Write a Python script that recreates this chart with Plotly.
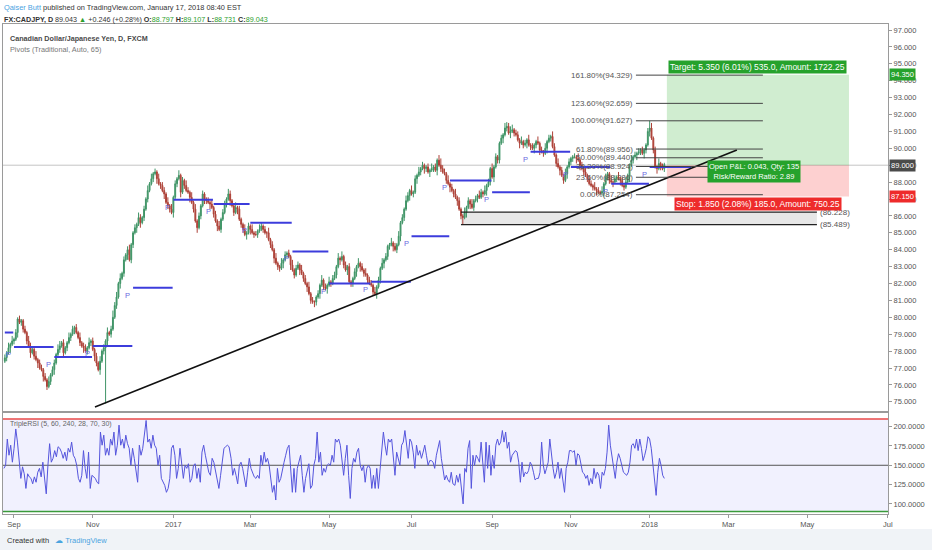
import numpy as np
import pandas as pd
import plotly.graph_objects as go

# ---------------- data ----------------
FIRST_OPEN = 77.4
CLOSES = [
    77.6, 77.9, 78.2, 78.4, 78.6, 78.7, 79.1, 79.9, 79.7, 79.8,
    79.3, 79.1, 78.6, 78.3, 77.9, 78.1, 77.7, 77.5, 77.3, 77.0,
    76.9, 76.5, 76.3, 75.9, 76.2, 76.6, 76.9, 77.3, 77.8, 78.1,
    78.3, 78.5, 77.9, 78.2, 78.5, 78.8, 79.0, 79.3, 79.4, 79.1,
    78.8, 78.5, 78.3, 78.2, 78.0, 78.2, 78.5, 78.6, 78.1, 77.7,
    77.3, 76.9, 77.4, 78.0, 78.2, 78.6, 79.1, 79.0, 79.3, 80.0,
    80.7, 81.2, 82.0, 82.3, 82.6, 83.4, 83.7, 84.0, 83.4, 84.3,
    85.0, 85.3, 85.5, 85.9, 85.6, 85.9, 86.4, 87.0, 87.5, 87.9,
    88.2, 88.5, 88.6, 88.2, 87.9, 87.8, 87.5, 87.3, 86.8, 86.6,
    86.4, 86.2, 87.1, 87.9, 88.2, 88.4, 87.4, 88.1, 87.8, 87.5,
    87.4, 87.1, 86.8, 86.4, 85.7, 85.3, 86.0, 86.6, 87.3, 87.0,
    86.9, 86.8, 86.7, 86.5, 86.1, 85.7, 85.4, 85.2, 85.8, 86.2,
    86.7, 87.0, 87.3, 86.9, 86.6, 86.2, 86.5, 86.4, 85.8, 85.5,
    85.2, 84.9, 85.0, 85.4, 85.2, 85.0, 84.9, 84.9, 85.1, 85.2,
    85.4, 85.2, 85.0, 85.0, 84.6, 84.3, 84.0, 83.5, 83.2, 83.0,
    82.9, 83.2, 83.4, 83.7, 83.8, 83.6, 83.1, 82.8, 82.5, 82.9,
    83.1, 82.8, 82.6, 82.3, 82.0, 81.8, 81.4, 81.0, 80.9, 80.9,
    81.2, 81.4, 81.9, 82.2, 81.8, 81.7, 81.9, 82.1, 82.0, 82.3,
    82.5, 83.0, 83.5, 83.4, 83.6, 83.1, 82.8, 83.0, 82.1, 82.0,
    82.3, 82.7, 83.0, 83.2, 83.0, 82.8, 82.6, 82.5, 82.2, 82.0,
    81.9, 81.5, 81.4, 81.8, 82.2, 82.9, 83.2, 83.4, 83.6, 84.2,
    84.3, 84.4, 84.2, 84.0, 84.3, 84.8, 85.6, 85.9, 86.4, 86.9,
    87.2, 87.5, 87.3, 87.4, 88.2, 88.4, 88.6, 88.8, 89.0, 88.8,
    88.9, 88.6, 88.7, 88.8, 88.9, 88.7, 89.3, 89.0, 88.8, 88.6,
    88.5, 88.1, 87.9, 87.7, 87.5, 87.3, 87.1, 86.9, 86.4, 86.0,
    85.9, 86.2, 86.5, 86.9, 86.7, 86.5, 86.9, 87.0, 87.2, 87.1,
    87.4, 87.3, 87.5, 87.8, 88.0, 88.8, 88.3, 88.9, 89.5, 89.3,
    90.3, 90.6, 90.8, 91.2, 91.3, 90.9, 91.0, 91.1, 90.9, 90.8,
    90.5, 90.3, 90.4, 90.2, 90.3, 90.5, 90.2, 90.1, 90.0, 90.2,
    90.4, 90.3, 89.9, 89.8, 89.7, 90.0, 90.4, 90.6, 90.7, 90.1,
    89.6, 89.1, 88.9, 88.7, 88.4, 88.1, 88.5, 88.9, 89.2, 89.4,
    89.5, 89.5, 89.4, 89.3, 89.0, 88.8, 88.6, 88.4, 88.2, 87.9,
    87.8, 87.7, 87.6, 87.5, 87.4, 87.35, 87.45, 87.9, 88.3, 88.5,
    88.1, 88.0, 88.0, 88.2, 88.3, 88.2, 88.1, 87.8, 87.7, 88.0,
    88.3, 89.0, 89.3, 89.5, 89.6, 89.7, 89.8, 89.9, 89.7, 89.9,
    90.2, 91.0, 91.2, 90.6, 89.9, 88.9, 88.8, 89.1, 88.9, 88.8, 89.043,
]
# upper / lower wick lengths in tenths of a yen, one digit per candle
WICK_UP_ROWS = [
    "2131312121", "1213211312", "2121312213", "3121131212", "1312213121",
    "2131213124", "2313121231", "1213212131", "3121312213", "1312131213",
    "2131312121", "1213121312", "2132113121", "1312131213", "2121312131",
    "1312121312", "2131213121", "1213121312", "2131312121", "1213121312",
    "2131213121", "1312131213", "2131213121", "1213121342", "2131213121",
    "1312131213", "2131213121", "1213123312", "2131213121", "1312131213",
    "2131213121", "1213121312", "2131213121", "1312131213", "2131212121",
    "12131213121",
]
WICK_DN_ROWS = [
    "1213121312", "2121312131", "1312121312", "2131212131", "1213121213",
    "2131213121", "1213121312", "2131312121", "1213121312", "2131213121",
    "1312131213", "2131213121", "1213121312", "2131312121", "1213121312",
    "2131213121", "1312131213", "2131213121", "1213121312", "2131312121",
    "1213121312", "2131213121", "1312131213", "2131213121", "1213121312",
    "2131312121", "1213121312", "2131213121", "1312131213", "2131213121",
    "1213121312", "2131312121", "1213121312", "2131213121", "1312131213",
    "21312131212",
]
HIGH_OVERRIDES = {274: 91.55, 352: 91.627}
LOW_OVERRIDES = {55: 74.9, 250: 85.489, 325: 87.254}

PIVOT_MONTHS = ["2016-08", "2016-09", "2016-10", "2016-11", "2016-12", "2017-01",
                "2017-02", "2017-03", "2017-04", "2017-05", "2017-06", "2017-07",
                "2017-08", "2017-09", "2017-10", "2017-11", "2017-12", "2018-01"]
PIVOT_LEVELS = [79.1, 78.25, 77.65, 78.3, 81.75, 86.95, 86.7, 85.6, 83.9, 82.0,
                82.1, 84.8, 88.1, 87.4, 89.8, 88.9, 87.9, 88.9]

FIB_PCTS = ["161.80%", "123.60%", "100.00%", "61.80%", "50.00%", "38.20%", "23.60%", "0.00%"]
FIB_PRICES = [94.329, 92.659, 91.627, 89.956, 89.440, 88.924, 88.286, 87.254]

ZONE_PRICES = [86.228, 85.489]
TREND_PRICES = [74.69, 89.9]
ENTRY, TARGET, STOP = 89.000, 94.350, 87.150

RSI_A = [146, 150, 184, 163, 176, 154, 172, 197, 180, 150, 133, 148, 139, 120, 139, 135, 133, 126, 135, 128,
         141, 146, 135, 154, 133, 113, 150, 178, 154, 159, 169, 161, 174, 172, 167, 159, 167, 156, 172, 167,
         180, 163, 159, 150, 133, 128, 137, 169, 146, 133, 167, 120, 137, 135, 133, 128, 126, 193, 176, 189,
         163, 172, 163, 184, 176, 193, 163, 176, 202, 176, 184, 172, 189, 178, 172, 150, 172, 159, 146, 128,
         176, 163, 172, 193, 208, 180, 184, 172, 189, 176, 172, 150, 163, 133, 128, 124, 115, 120, 133, 172,
         176, 163, 133, 146, 172, 150, 133, 150, 146, 152, 128, 133, 150, 152, 133, 146, 128, 167, 176, 163,
         150, 141, 137, 159, 154, 141, 133, 120, 137, 154, 172, 174, 176, 174]
RSI_B = [159, 137, 146, 137, 126, 150, 154, 146, 133, 122, 141, 159, 146, 139, 135, 133, 137, 133, 163, 150,
         167, 154, 159, 150, 128, 115, 124, 105, 146, 128, 133, 146, 154, 163, 172, 176, 146, 115, 146, 115,
         146, 154, 163, 137, 115, 133, 141, 152, 120, 124, 150, 159, 193, 154, 167, 137, 146, 141, 150, 152,
         150, 163, 154, 184, 180, 184, 176, 159, 137, 159, 176, 137, 107, 146, 159, 154, 167, 172, 150, 143,
         150, 128, 146, 150, 146, 120, 137, 120, 146, 120, 146, 172, 193, 176, 163, 184, 180, 184, 154, 137,
         167, 159, 150, 176, 180, 195, 176, 159, 184, 180, 167, 146, 176, 163, 169, 159, 167, 176, 163, 150,
         156, 156, 154, 146, 163, 172, 182, 159, 141, 131, 137, 131, 128, 141, 126]
RSI_C = [124, 137, 128, 139, 120, 100, 146, 141, 172, 182, 120, 163, 150, 163, 159, 154, 180, 150, 128, 180,
         146, 176, 137, 163, 146, 176, 184, 176, 180, 195, 180, 193, 172, 180, 154, 163, 167, 169, 167, 154,
         128, 154, 135, 141, 139, 143, 154, 150, 141, 131, 133, 133, 141, 180, 150, 139, 146, 154, 184, 163,
         146, 133, 141, 154, 133, 146, 133, 115, 146, 154, 169, 169, 167, 169, 150, 165, 163, 154, 141, 139,
         133, 137, 124, 133, 126, 146, 133, 141, 137, 120, 141, 137, 146, 167, 202, 176, 163, 146, 133, 154,
         165, 159, 150, 141, 139, 137, 141, 154, 176, 178, 172, 184, 169, 184, 172, 156, 163, 172, 187, 184,
         172, 150, 133, 111, 141, 159, 150, 137, 133]
RSI_UPPER, RSI_MID, RSI_LOWER = 210, 150, 90

TICK_MONTHS = ["2016-09", "2016-11", "2017-01", "2017-03", "2017-05", "2017-07",
               "2017-09", "2017-11", "2018-01", "2018-03", "2018-05", "2018-07"]
TICK_LABELS = ["Sep", "Nov", "2017", "Mar", "May", "Jul", "Sep", "Nov", "2018", "Mar", "May", "Jul"]
PRICE_TICKS = list(range(75, 98))
RSI_TICKS = [100, 125, 150, 175, 200]

# ---------------- derived OHLC ----------------
WICK_UP = "".join(WICK_UP_ROWS)
WICK_DN = "".join(WICK_DN_ROWS)
n = len(CLOSES)
assert len(WICK_UP) == n and len(WICK_DN) == n, (n, len(WICK_UP), len(WICK_DN))
closes = np.array(CLOSES)
opens = np.concatenate([[FIRST_OPEN], closes[:-1]])
highs = np.maximum(opens, closes) + np.array([int(c) for c in WICK_UP]) / 10.0
lows = np.minimum(opens, closes) - np.array([int(c) for c in WICK_DN]) / 10.0
for k, v in HIGH_OVERRIDES.items():
    highs[k] = v
for k, v in LOW_OVERRIDES.items():
    lows[k] = v
bars = np.arange(n)

# business-day calendar for the time scale (bar 0 = 2016-08-25)
bdays = pd.bdate_range("2016-08-25", periods=560)
months = bdays.strftime("%Y-%m")


def month_first(m):
    return int(np.argmax(months == m))


def month_last(m):
    return int(len(months) - 1 - np.argmax(months[::-1] == m))


tickvals = [month_first(m) for m in TICK_MONTHS]

# ---------------- layout geometry ----------------
W, H = 932, 550
ML, MR, MT, MB = 3, 44, 24, 36
PH = H - MT - MB
X_RANGE = [-1.0, 482.1]
Y_RANGE = [74.456, 97.355]
Y2_RANGE = [86.9, 217.7]
MAIN_DOMAIN = [(H - MB - 411) / PH, 1.0]
RSI_DOMAIN = [0.0, (H - MB - 413) / PH]

FIB_BARS = (344.5, 413.8)
POS_BARS = (361.4, 460.8)
ZONE_BARS = (249.0, 443.3)
TREND_BARS = (49.2, 399.6)
RSI_SPANS = [(-0.5, 122.4), (123.5, 244.6), (245.7, 360.0)]


def px_x(px):
    return (px - ML) / (W - ML - MR)


def px_y(py):
    return (H - MB - py) / PH


FONT = "Liberation Sans, Arial, sans-serif"
GREEN = "#26a22c"
RED = "#ee2b2b"
PIV = "#3c3cdc"

fig = go.Figure()

fig.add_trace(go.Candlestick(
    x=bars, open=opens, high=highs, low=lows, close=closes,
    increasing=dict(line=dict(color="#3f9466", width=1), fillcolor="#4a9e6e"),
    decreasing=dict(line=dict(color="#ad4137", width=1), fillcolor="#b8473d"),
    whiskerwidth=0, xaxis="x", yaxis="y", hoverinfo="skip", showlegend=False,
))

rsi_x = np.concatenate([np.linspace(a, b, len(s)) for (a, b), s in zip(RSI_SPANS, [RSI_A, RSI_B, RSI_C])])
rsi_y = np.array(RSI_A + RSI_B + RSI_C)
fig.add_trace(go.Scatter(x=rsi_x, y=rsi_y, mode="lines", line=dict(color="#5555dd", width=1),
                         xaxis="x2", yaxis="y2", hoverinfo="skip", showlegend=False))

shapes = []
ann = []

# RSI band and levels
shapes.append(dict(type="rect", xref="x2", yref="y2", x0=X_RANGE[0], x1=X_RANGE[1], y0=RSI_LOWER, y1=RSI_UPPER,
                   fillcolor="rgba(150,150,245,0.13)", line=dict(width=0), layer="below"))
for lv, col in [(RSI_UPPER, "#e84848"), (RSI_MID, "#555555"), (RSI_LOWER, "#3a9a3a")]:
    shapes.append(dict(type="line", xref="x2", yref="y2", x0=X_RANGE[0], x1=X_RANGE[1], y0=lv, y1=lv,
                       line=dict(color=col, width=1.5 if lv != RSI_MID else 1), layer="below"))

# last price line
shapes.append(dict(type="line", xref="x", yref="y", x0=X_RANGE[0], x1=X_RANGE[1], y0=ENTRY, y1=ENTRY,
                   line=dict(color="#c4c4c4", width=1), layer="below"))

# pivots
for m, lv in zip(PIVOT_MONTHS, PIVOT_LEVELS):
    a = max(month_first(m), X_RANGE[0])
    b = month_last(m)
    shapes.append(dict(type="line", xref="x", yref="y", x0=a, x1=b + 0.6, y0=lv, y1=lv,
                       line=dict(color=PIV, width=2)))
    if m != PIVOT_MONTHS[0]:
        ann.append(dict(x=a, y=lv, xref="x", yref="y", text="P", showarrow=False, xanchor="right",
                        yanchor="top", xshift=-1, yshift=-1, font=dict(family=FONT, size=7.5, color="#6a6ae0")))

# support zone
shapes.append(dict(type="rect", xref="x", yref="y", x0=ZONE_BARS[0], x1=ZONE_BARS[1],
                   y0=ZONE_PRICES[1], y1=ZONE_PRICES[0], fillcolor="rgba(120,120,120,0.18)",
                   line=dict(width=0), layer="below"))
for p in ZONE_PRICES:
    shapes.append(dict(type="line", xref="x", yref="y", x0=ZONE_BARS[0], x1=ZONE_BARS[1], y0=p, y1=p,
                       line=dict(color="#222222", width=1.2)))
    ann.append(dict(x=ZONE_BARS[1], y=p, xref="x", yref="y", text=f"({p:.3f})", showarrow=False,
                    xanchor="left", xshift=1, font=dict(family=FONT, size=8, color="#555555")))

# position tool
shapes.append(dict(type="rect", xref="x", yref="y", x0=POS_BARS[0], x1=POS_BARS[1], y0=ENTRY, y1=TARGET,
                   fillcolor="rgba(60,180,60,0.24)", line=dict(width=0), layer="below"))
shapes.append(dict(type="rect", xref="x", yref="y", x0=POS_BARS[0], x1=POS_BARS[1], y0=STOP, y1=ENTRY,
                   fillcolor="rgba(245,60,60,0.24)", line=dict(width=0), layer="below"))
pos_mid = (POS_BARS[0] + POS_BARS[1]) / 2
ann.append(dict(x=pos_mid, y=TARGET, xref="x", yref="y", showarrow=False, yanchor="bottom", yshift=1,
                text="Target: 5.350 (6.01%) 535.0, Amount: 1722.25", bgcolor=GREEN, borderpad=1,
                font=dict(family=FONT, size=8.5, color="white")))
ann.append(dict(x=pos_mid, y=STOP, xref="x", yref="y", showarrow=False, yanchor="top", yshift=-1,
                text="Stop: 1.850 (2.08%) 185.0, Amount: 750.25", bgcolor=RED, borderpad=1,
                font=dict(family=FONT, size=8.5, color="white")))
ann.append(dict(x=pos_mid - 2, y=ENTRY, xref="x", yref="y", showarrow=False, yanchor="middle", yshift=-6,
                text="Open P&L: 0.043, Qty: 135<br>Risk/Reward Ratio: 2.89", bgcolor=GREEN, borderpad=1,
                font=dict(family=FONT, size=7.5, color="white")))

# trend line
shapes.append(dict(type="line", xref="x", yref="y", x0=TREND_BARS[0], x1=TREND_BARS[1],
                   y0=TREND_PRICES[0], y1=TREND_PRICES[1], line=dict(color="#111111", width=1.6)))

# fibonacci
for pct, p in zip(FIB_PCTS, FIB_PRICES):
    shapes.append(dict(type="line", xref="x", yref="y", x0=FIB_BARS[0], x1=FIB_BARS[1], y0=p, y1=p,
                       line=dict(color="#444444", width=1)))
    ann.append(dict(x=FIB_BARS[0], y=p, xref="x", yref="y", text=f"{pct}({p:.3f})", showarrow=False,
                    xanchor="right", xshift=-1, font=dict(family=FONT, size=8, color="#555555")))

# right-axis price tags
for p, col in [(TARGET, GREEN), (ENTRY, "#4a4a4a"), (STOP, RED)]:
    ann.append(dict(x=1.0, y=p, xref="paper", yref="y", text=f"{p:.3f}", showarrow=False, xanchor="left",
                    xshift=1, bgcolor=col, borderpad=1, font=dict(family=FONT, size=7.5, color="white")))

# texts
ann.append(dict(x=px_x(8), y=px_y(38), xref="paper", yref="paper", xanchor="left", yanchor="middle",
                showarrow=False, text="<b>Canadian Dollar/Japanese Yen, D, FXCM</b>",
                font=dict(family=FONT, size=7.2, color="#4a4a4a")))
ann.append(dict(x=px_x(8), y=px_y(50), xref="paper", yref="paper", xanchor="left", yanchor="middle",
                showarrow=False, text="Pivots (Traditional, Auto, 65)",
                font=dict(family=FONT, size=7.3, color="#777777")))
ann.append(dict(x=px_x(8), y=px_y(424), xref="paper", yref="paper", xanchor="left", yanchor="middle",
                showarrow=False, text="TripleRSI (5, 60, 240, 28, 70, 30)",
                font=dict(family=FONT, size=7, color="#666666")))
ann.append(dict(x=px_x(2), y=px_y(7), xref="paper", yref="paper", xanchor="left", yanchor="middle",
                showarrow=False,
                text="<span style='color:#4aa3df'>Qaiser Butt</span> published on TradingView.com, January 17, 2018 08:40 EST",
                font=dict(family=FONT, size=7.4, color="#333333")))
g = "#2c9e2c"
ann.append(dict(x=px_x(2), y=px_y(19), xref="paper", yref="paper", xanchor="left", yanchor="middle",
                showarrow=False,
                text=(f"<b>FX:CADJPY, D</b> 89.043 <span style='color:{g}'>▲</span> +0.246 (+0.28%) "
                      f"<b>O:</b><span style='color:{g}'>88.797</span> <b>H:</b><span style='color:{g}'>89.107</span> "
                      f"<b>L:</b><span style='color:{g}'>88.731</span> <b>C:</b><span style='color:{g}'>89.043</span>"),
                font=dict(family=FONT, size=7.2, color="#333333")))
ann.append(dict(x=px_x(5), y=px_y(540), xref="paper", yref="paper", xanchor="left", yanchor="middle",
                showarrow=False,
                text="Created with   <span style='color:#4aa3df'>☁ TradingView</span>",
                font=dict(family=FONT, size=7.5, color="#333333")))

# footer band
shapes.append(dict(type="rect", xref="paper", yref="paper", x0=-0.01, x1=1.06, y0=px_y(550), y1=px_y(529),
                   fillcolor="#f0f3f7", line=dict(width=0), layer="below"))

axis_common = dict(showgrid=False, zeroline=False, linecolor="#9a9a9a", linewidth=1, mirror=True,
                   showline=True)
fig.update_layout(
    width=W, height=H, margin=dict(l=ML, r=MR, t=MT, b=MB),
    paper_bgcolor="white", plot_bgcolor="white", showlegend=False,
    xaxis=dict(domain=[0, 1], range=X_RANGE, anchor="y", showticklabels=False,
               rangeslider=dict(visible=False), **axis_common),
    xaxis2=dict(domain=[0, 1], range=X_RANGE, anchor="y2", matches="x", tickvals=tickvals,
                ticktext=TICK_LABELS, ticks="outside", ticklen=3, tickcolor="#999999",
                tickfont=dict(family=FONT, size=7.5, color="#555555"), **axis_common),
    yaxis=dict(domain=MAIN_DOMAIN, range=Y_RANGE, side="right", tickvals=PRICE_TICKS,
               ticktext=[f"{v:.3f}" for v in PRICE_TICKS], ticks="outside", ticklen=3, tickcolor="#999999",
               tickfont=dict(family=FONT, size=7.5, color="#555555"), **axis_common),
    yaxis2=dict(domain=RSI_DOMAIN, range=Y2_RANGE, side="right", tickvals=RSI_TICKS,
                ticktext=[f"{v:.4f}" for v in RSI_TICKS], ticks="outside", ticklen=3, tickcolor="#999999",
                tickfont=dict(family=FONT, size=7.5, color="#555555"), **axis_common),
    shapes=shapes, annotations=ann,
)

fig.write_html("out.html", config={"displayModeBar": False},
               post_script="document.body.style.margin='0px';document.body.style.padding='0px';")
